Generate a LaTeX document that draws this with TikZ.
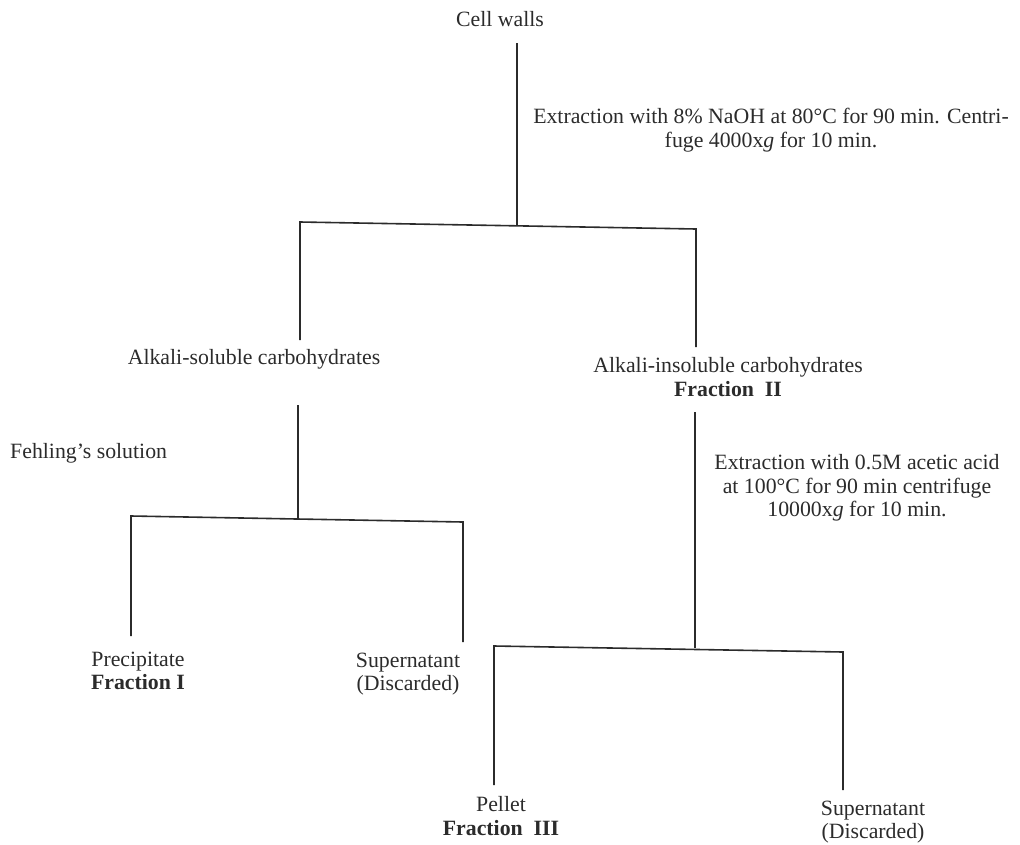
\documentclass[tikz,border=0pt]{standalone}
\usepackage{fontspec}
\setmainfont{Liberation Serif}
\definecolor{ink}{HTML}{2B2B2B}
\tikzset{
  lbl/.style={inner sep=0pt, text=ink, align=center, font=\fontsize{21.8}{23.5}\selectfont},
  wire/.style={draw=ink, line width=1.6pt, line join=miter}
}
\begin{document}
\begin{tikzpicture}[x=1pt,y=-1pt]
\useasboundingbox (0,0) rectangle (1020,844);
% labels
\node[lbl] (cw) at (500,19) {Cell walls};
\node[lbl] (naoh) at (771,130) {Extraction with 8\% NaOH at 80\textdegree C for 90 min. Centri-\\fuge 4000x\textit{g} for 10 min.};
\node[lbl] (als) at (254,359) {Alkali-soluble carbohydrates};
\node[lbl] (ali) at (728,377) {Alkali-insoluble carbohydrates\\\textbf{Fraction\ \ II}};
\node[lbl, anchor=west] (feh) at (10,453) {Fehling's solution};
\node[lbl] (acet) at (857,488) {Extraction with 0.5M acetic acid\\at 100\textdegree C for 90 min centrifuge\\10000x\textit{g} for 10 min.};
\node[lbl] (prec) at (138,671) {Precipitate\\\textbf{Fraction I}};
\node[lbl] (sup1) at (408,674) {Supernatant\\(Discarded)};
\node[lbl] (pel) at (501,816) {Pellet\\\textbf{Fraction\ \ III}};
\node[lbl] (sup2) at (873,822) {Supernatant\\(Discarded)};
% junction coordinates
\coordinate (t0) at (517,43);
\coordinate (j1) at (517,225);
\coordinate (l1a) at (300,222);
\coordinate (l1b) at (300,340);
\coordinate (r1a) at (696,229);
\coordinate (r1b) at (696,347);
\coordinate (s0) at (298,405);
\coordinate (j2) at (298,518);
\coordinate (l2a) at (131,516);
\coordinate (l2b) at (131,636);
\coordinate (r2a) at (463,522);
\coordinate (r2b) at (463,642);
\coordinate (i0) at (695,412);
\coordinate (j3) at (695,648);
\coordinate (l3a) at (494,646);
\coordinate (l3b) at (494,785);
\coordinate (r3a) at (843,652);
\coordinate (r3b) at (843,790);
% connectors
\draw[wire] (t0) -- (j1);
\draw[wire] (l1b) -- (l1a) -- (r1a) -- (r1b);
\draw[wire] (s0) -- (j2);
\draw[wire] (l2b) -- (l2a) -- (r2a) -- (r2b);
\draw[wire] (i0) -- (j3);
\draw[wire] (l3b) -- (l3a) -- (r3a) -- (r3b);
\end{tikzpicture}
\end{document}
